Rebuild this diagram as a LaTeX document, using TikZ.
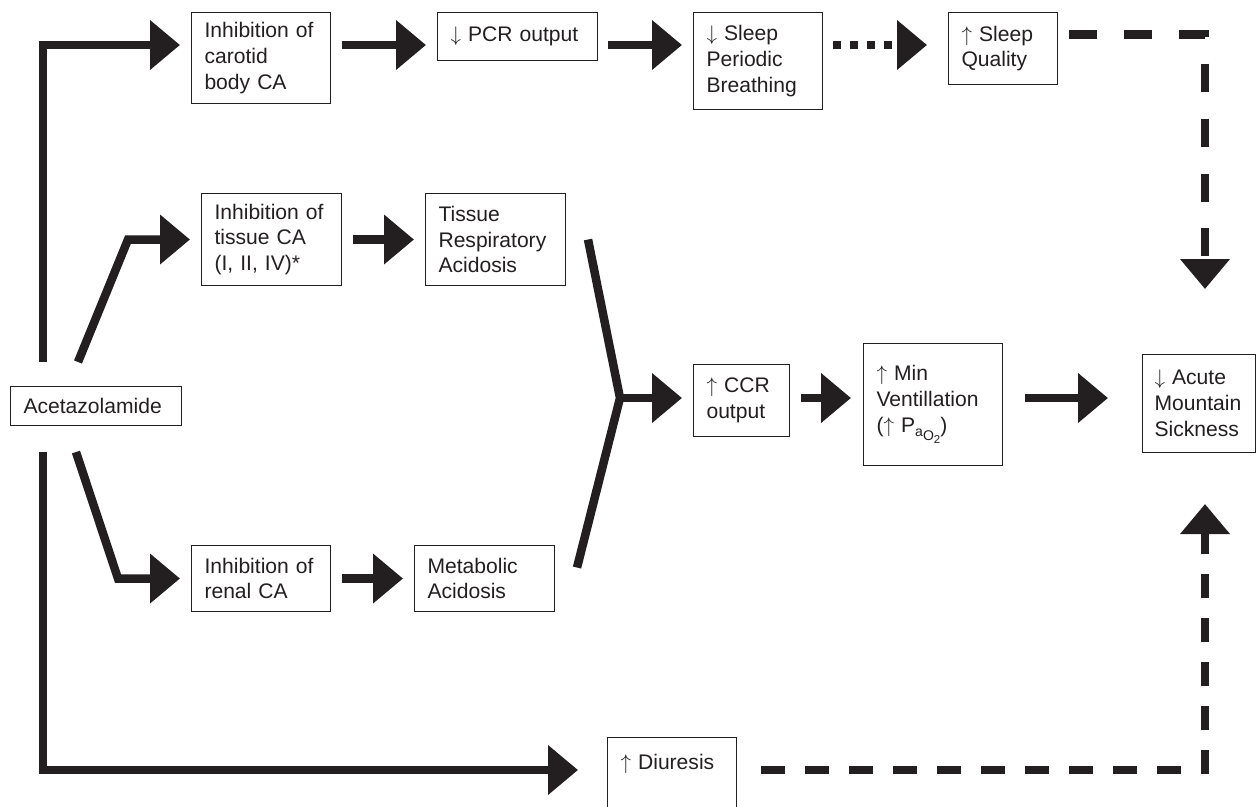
\documentclass[tikz,border=0pt]{standalone}
\usepackage{fontspec}
\setmainfont{Liberation Sans}
\definecolor{FlowInk}{RGB}{35,31,32}
\usetikzlibrary{arrows.meta,calc}

\newcommand{\up}{$\uparrow$}
\newcommand{\down}{$\downarrow$}
\newcommand{\paotwo}{P\raisebox{-0.35ex}{\fontsize{8}{8}\selectfont a\raisebox{-0.55ex}{O\raisebox{-0.45ex}{\fontsize{6.5}{6.5}\selectfont 2}}}}

\begin{document}
\begin{tikzpicture}[x=0.02cm,y=-0.02cm,
    box/.style={draw=FlowInk,line width=0.6pt,anchor=north west,align=left,
                inner xsep=0.26cm,font=\fontsize{12}{14.7}\selectfont,text=FlowInk},
    thickline/.style={draw=FlowInk,line width=0.17cm},
    arr/.style={thickline,-{Triangle[length=0.6cm,width=0.96cm]},shorten >=0.22cm},
    dasharr/.style={arr,dash pattern=on 0.56cm off 0.54cm},
    dotarr/.style={arr,dash pattern=on 0.16cm off 0.18cm}]
    \useasboundingbox (0,0) rectangle (1257,806);
    \coordinate (top)  at (0,45);
    \coordinate (mid)  at (0,398);
    \coordinate (bot)  at (0,770);
    \coordinate (rail) at (1205,0);
    \coordinate (fork) at (620,398);

    \node[box,text width=2.9cm,minimum height=0.78cm] (acet) at (10,386) {Acetazolamide};

    \node[box,text width=2.26cm,minimum height=1.82cm] (carotid) at (191,12) {Inhibition of\\carotid\\body CA};
    \node[box,text width=2.68cm,minimum height=0.96cm] (pcr) at (437,12) {\down{} PCR output};
    \node[box,text width=2.06cm,minimum height=1.94cm] (spb) at (693,12) {\down{} Sleep\\Periodic\\Breathing};
    \node[box,text width=1.66cm,minimum height=1.44cm] (sq) at (948,12) {\up{} Sleep\\Quality};

    \node[box,text width=2.28cm,minimum height=1.84cm] (tca) at (201,193) {Inhibition of\\tissue CA\\(I, II, IV)*};
    \node[box,text width=2.28cm,minimum height=1.84cm] (tra) at (425,193) {Tissue\\Respiratory\\Acidosis};

    \node[box,text width=1.4cm,minimum height=1.44cm] (ccr) at (693,364) {\up{} CCR\\output};
    \node[box,text width=2.26cm,minimum height=2.44cm] (mv) at (863,343)
        {\up{} Min\\Ventillation\\(\up{} \paotwo)};
    \node[box,inner xsep=0.24cm,text width=1.78cm,minimum height=1.96cm] (ams) at (1142,354)
        {\down{} Acute\\Mountain\\Sickness};

    \node[box,text width=2.26cm,minimum height=1.32cm] (rca) at (191,545) {Inhibition of\\renal CA};
    \node[box,text width=2.28cm,minimum height=1.32cm] (mac) at (414,545) {Metabolic\\Acidosis};

    \node[box,text width=2.06cm,inner ysep=0pt,text height=0.64cm,text depth=1.6cm] (diu) at (607,737) {\up{} Diuresis};

    \draw[arr] ([shift={(0.66cm,0.48cm)}]acet.north west) |- (carotid.west |- top);
    \draw[arr] ([shift={(1.36cm,0.48cm)}]acet.north west) -- ([xshift=-1.46cm]tca.west) -- (tca.west);
    \draw[arr] ([shift={(1.32cm,-0.52cm)}]acet.south west) -- ([xshift=-1.46cm]rca.west) -- (rca.west);
    \draw[arr,shorten >=0.58cm] ([shift={(0.66cm,-0.52cm)}]acet.south west) |- (diu.west |- bot);

    \draw[arr,shorten <=0.22cm] (carotid.east |- top) -- (pcr.west |- top);
    \draw[arr,shorten <=0.2cm] (pcr.east |- top) -- (spb.west |- top);
    \draw[dotarr,shorten <=0.2cm,shorten >=0.42cm] (spb.east |- top) -- (sq.west |- top);
    \draw[dasharr,shorten <=0.22cm,shorten >=1.3cm] ([yshift=0.28cm]sq.east) -| (rail |- ams.north);

    \draw[arr,shorten <=0.22cm] (tca.east) -- (tra.west);
    \draw[arr,shorten <=0.22cm] (rca.east) -- (mac.west);
    \draw[thickline] ([xshift=0.44cm]tra.east) -- (fork) -- ([shift={(0.44cm,0.22cm)}]mac.east);
    \draw[arr] (fork) -- (ccr.west |- mid);
    \draw[arr,shorten <=0.22cm,shorten >=0.24cm] (ccr.east |- mid) -- (mv.west |- mid);
    \draw[arr,shorten <=0.44cm,shorten >=0.68cm] (mv.east |- mid) -- (ams.west |- mid);

    \draw[dasharr,dash pattern=on 0.48cm off 0.4cm,shorten <=0.48cm,shorten >=1.02cm]
        (diu.east |- bot) -| (rail |- ams.south);
\end{tikzpicture}
\end{document}
